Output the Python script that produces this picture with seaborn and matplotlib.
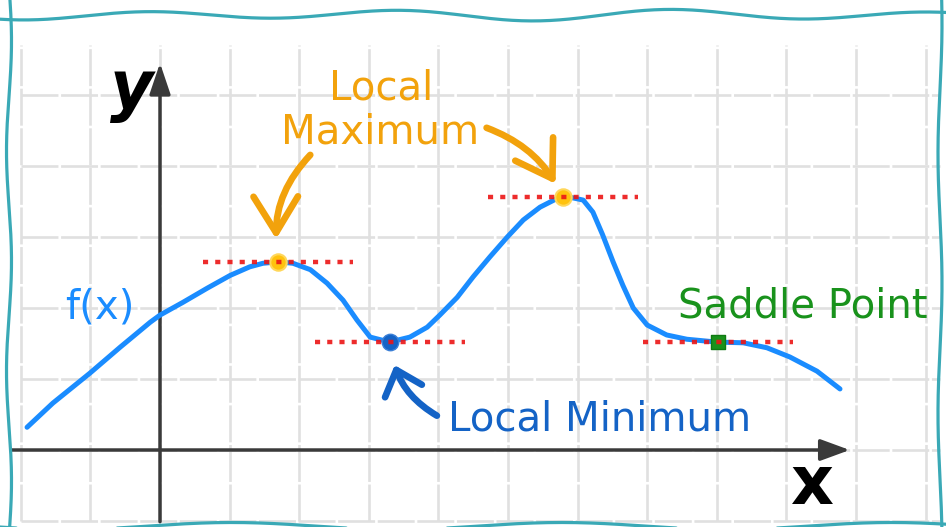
import numpy as np
import matplotlib
matplotlib.use("Agg")
import matplotlib.pyplot as plt
import seaborn as sns
import pandas as pd

# ---- data (grid units; y-axis at x=0, x-axis at y=0) ----
curve_x = [-1.91, -1.54, -1.01, -0.57, -0.14, 0.00, 0.33, 0.68, 1.01, 1.29,
           1.48, 1.70, 1.91, 2.16, 2.40, 2.63, 2.83, 3.02, 3.30, 3.59,
           3.84, 4.02, 4.27, 4.50, 4.74, 4.99, 5.22, 5.46, 5.70, 5.89,
           6.08, 6.22, 6.36, 6.51, 6.65, 6.80, 7.00, 7.28, 7.57, 8.00,
           8.38, 8.72, 9.05, 9.44, 9.77]
curve_y = [0.32, 0.66, 1.08, 1.45, 1.80, 1.90, 2.08, 2.28, 2.46, 2.58,
           2.63, 2.65, 2.63, 2.54, 2.35, 2.11, 1.83, 1.59, 1.52, 1.59,
           1.73, 1.90, 2.15, 2.44, 2.72, 3.00, 3.24, 3.42, 3.54, 3.56,
           3.52, 3.35, 3.03, 2.65, 2.32, 2.00, 1.76, 1.62, 1.56, 1.52,
           1.51, 1.44, 1.31, 1.11, 0.86]

crit_kind = ["max", "min", "max", "saddle"]
crit_x = [1.70, 3.30, 5.79, 8.02]
crit_y = [2.65, 1.52, 3.56, 1.52]
tangent_half = 1.08

grid_x = list(range(-2, 12))
grid_y = list(range(-1, 6))

label_max = ["Local", "Maximum"]
label_min = "Local Minimum"
label_saddle = "Saddle Point"
label_f = "f(x)"

# ---- colours ----
C_CURVE = "#1a8cff"
C_ORANGE = "#f2a20c"
C_BLUE = "#1463c6"
C_GREEN = "#19921c"
C_RED = "#ec1515"
C_GRID = "#e0e0e0"
C_AXIS = "#3a3a3a"
C_BORDER = "#3aa9b6"

sns.set_theme(style="white")
plt.rcParams["font.family"] = ["DejaVu Sans"]

W, H = 946, 527
fig = plt.figure(figsize=(W / 100, H / 100), dpi=100)
ax = fig.add_axes([0, 0, 1, 1])
ax.set_xlim(-160 / 69.6, (W - 160) / 69.6)
ax.set_ylim((450 - H) / 71, 450 / 71)
ax.axis("off")

# ---- grid ----
for gx in grid_x:
    ax.plot([gx, gx], [-1.0, 5.7], color=C_GRID, lw=1.9,
            ls=(0, (14, 1.0)), zorder=1, solid_capstyle="butt")
for gy in grid_y:
    ax.plot([-2.0, 11.2], [gy, gy], color=C_GRID, lw=1.9,
            ls=(0, (14, 1.0)), zorder=1)

# ---- axes with arrows ----
ax.annotate("", xy=(0, 5.45), xytext=(0, -1.01),
            arrowprops=dict(arrowstyle="-|>,head_length=0.95,head_width=0.32",
                            lw=2.5, color=C_AXIS, mutation_scale=20,
                            shrinkA=0, shrinkB=0), zorder=2)
ax.annotate("", xy=(9.91, 0), xytext=(-2.13, 0),
            arrowprops=dict(arrowstyle="-|>,head_length=0.9,head_width=0.33",
                            lw=2.5, color=C_AXIS, mutation_scale=20,
                            shrinkA=0, shrinkB=0), zorder=2)

# ---- curve ----
df = pd.DataFrame({"x": curve_x, "y": curve_y})
sns.lineplot(data=df, x="x", y="y", ax=ax, color=C_CURVE, lw=3.6,
             sort=False, zorder=3, solid_capstyle="round",
             solid_joinstyle="round")

# ---- critical point markers ----
for k, cx, cy in zip(crit_kind, crit_x, crit_y):
    if k == "max":
        ax.scatter([cx], [cy], s=140, color="#ffc20e", edgecolor="#ffd75a",
                   linewidth=1.5, zorder=4)
    elif k == "min":
        ax.scatter([cx], [cy], s=140, color=C_BLUE, edgecolor="#3b7fd6",
                   linewidth=1.0, zorder=4)
    else:
        ax.scatter([cx], [cy], s=105, marker="s", color=C_GREEN,
                   edgecolor="#0f7a12", linewidth=1.0, zorder=4)

# ---- dotted tangent lines ----
for cx, cy in zip(crit_x, crit_y):
    ax.plot([cx - tangent_half, cx + tangent_half], [cy, cy], color=C_RED,
            lw=3.2, ls=(0, (1.15, 1.6)), zorder=5, alpha=0.9)

# ---- labels ----
ax.text(3.17, 4.93, label_max[0], color=C_ORANGE, fontsize=29,
        ha="center", va="baseline", zorder=6)
ax.text(3.16, 4.32, label_max[1], color=C_ORANGE, fontsize=29,
        ha="center", va="baseline", zorder=6)
ax.text(6.32, 0.28, label_min, color=C_BLUE, fontsize=29,
        ha="center", va="baseline", zorder=6)
ax.text(9.24, 1.87, label_saddle, color=C_GREEN, fontsize=29,
        ha="center", va="baseline", zorder=6)
ax.text(-0.86, 1.85, label_f, color=C_CURVE, fontsize=29,
        ha="center", va="baseline", zorder=6)
ax.text(-0.40, 5.07, "y", color="black", fontsize=48, fontweight="bold",
        fontstyle="italic", ha="center", va="center", zorder=6)
ax.text(9.37, -0.49, "x", color="black", fontsize=48, fontweight="bold",
        ha="center", va="center", zorder=6)

# ---- annotation arrows pointing at the critical points ----
ax.annotate("", xy=(crit_x[0], crit_y[0]), xytext=(23, 77),
            textcoords="offset points",
            arrowprops=dict(arrowstyle="->,head_length=1.3,head_width=0.8",
                            connectionstyle="arc3,rad=0.25", lw=4.8,
                            color=C_ORANGE, mutation_scale=20,
                            shrinkA=0, shrinkB=16.5,
                            capstyle="round", joinstyle="round"), zorder=6)
ax.annotate("", xy=(crit_x[2], crit_y[2]), xytext=(-55, 50),
            textcoords="offset points",
            arrowprops=dict(arrowstyle="->,head_length=1.25,head_width=0.8",
                            connectionstyle="arc3,rad=-0.2", lw=4.8,
                            color=C_ORANGE, mutation_scale=20,
                            shrinkA=0, shrinkB=11,
                            capstyle="round", joinstyle="round"), zorder=6)
ax.annotate("", xy=(crit_x[1], crit_y[1]), xytext=(34, -53),
            textcoords="offset points",
            arrowprops=dict(arrowstyle="->,head_length=0.8,head_width=0.7",
                            connectionstyle="arc3,rad=-0.25", lw=4.8,
                            color=C_BLUE, mutation_scale=20,
                            shrinkA=0, shrinkB=17,
                            capstyle="round", joinstyle="round"), zorder=6)

# ---- wavy hand-drawn frame (decoration, in pixel space) ----
def px(xp, yp):
    return np.asarray(xp) / W, 1 - np.asarray(yp) / H

t = np.linspace(0, W, 400)
top = 15 + 4.5 * np.sin(2 * np.pi * t / 260 + 1.2) + 1.5 * np.sin(2 * np.pi * t / 410)
bot = 526 + 3.5 * np.sin(2 * np.pi * t / 330 + 0.3)
s = np.linspace(0, H, 300)
left = 9 + 2.5 * np.sin(2 * np.pi * s / 220 + 0.4)
right = 940 + 2.0 * np.sin(2 * np.pi * s / 260 + 1.0)
for xs, ys in [(t, top), (t, bot), (left, s), (right, s)]:
    fx, fy = px(xs, ys)
    ax.plot(fx, fy, transform=ax.transAxes, color=C_BORDER, lw=2.3,
            zorder=7, clip_on=False)

fig.savefig("out.png", dpi=100)
